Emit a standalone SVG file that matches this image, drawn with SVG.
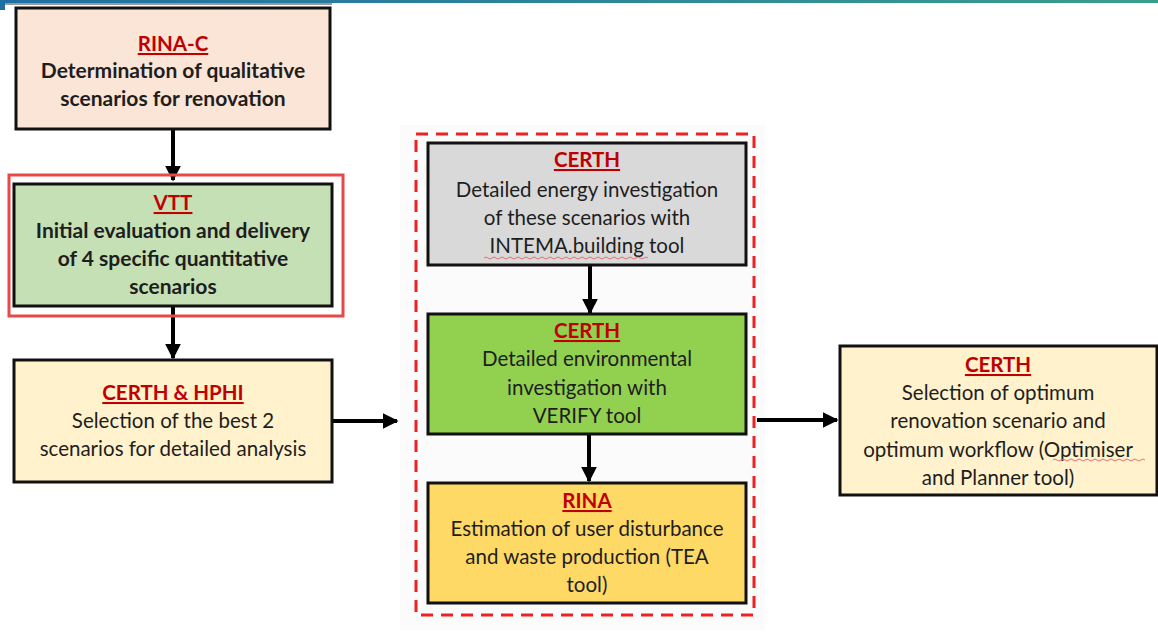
<svg xmlns="http://www.w3.org/2000/svg" width="1158" height="632" viewBox="0 0 1158 632">
<defs>
<linearGradient id="topbar" x1="0" y1="0" x2="1" y2="0">
<stop offset="0" stop-color="#1f6ea3"/>
<stop offset="1" stop-color="#3a9e8c"/>
</linearGradient>
<marker id="ah" markerWidth="4" markerHeight="4" refX="3.6" refY="2" orient="auto" markerUnits="strokeWidth">
<path d="M0,0 L4,2 L0,4 z" fill="#000"/>
</marker>
<style>
.box{stroke:#111;stroke-width:3}
.t{font-family:Lato,"Open Sans",sans-serif;font-size:20.5px;fill:#1e1e1e;text-anchor:middle}
.b{font-weight:bold;font-size:21px}
.h{font-family:Lato,"Open Sans",sans-serif;font-size:20.5px;font-weight:bold;fill:#c00000;text-anchor:middle;text-decoration:underline}
.c{stroke:#000;stroke-width:4;fill:none;marker-end:url(#ah)}
.sq{stroke:#e87070;stroke-width:1;fill:none}
</style>
</defs>
<rect x="0" y="0" width="1158" height="632" fill="#fff"/>
<rect x="400" y="125" width="365" height="505" fill="#fbfbfc"/>
<rect x="0" y="0" width="1158" height="3" fill="url(#topbar)"/>
<rect x="0" y="0" width="5" height="10" fill="#1f6ea3"/>
<rect x="5" y="3" width="327" height="2" fill="#9a9a9a"/>

<g id="connectors">
<line class="c" x1="173" y1="129" x2="173" y2="180"/>
<line class="c" x1="173" y1="307" x2="173" y2="358"/>
<line class="c" x1="333" y1="421" x2="397" y2="421"/>
<line class="c" x1="590" y1="265" x2="590" y2="313"/>
<line class="c" x1="589" y1="434" x2="589" y2="481"/>
<line class="c" x1="757" y1="420" x2="837" y2="420"/>
</g>

<g id="group-dashed">
<rect x="416" y="134" width="338" height="481" fill="none" stroke="#ee2222" stroke-width="3" stroke-dasharray="12 8"/>
</g>

<g id="node-rinac">
<rect class="box" x="16" y="8" width="314" height="121" fill="#fbe5d6"/>
<text class="h" x="173" y="51">RINA-C</text>
<text class="t b" x="173" y="78">Determination of qualitative</text>
<text class="t b" x="173" y="106">scenarios for renovation</text>
</g>

<g id="node-vtt">
<rect x="9" y="175" width="334" height="141" fill="none" stroke="#e84848" stroke-width="3"/>
<rect class="box" x="14" y="184" width="318" height="122" fill="#c5e0b4"/>
<text class="h" x="173" y="210">VTT</text>
<text class="t b" x="173" y="238">Initial evaluation and delivery</text>
<text class="t b" x="173" y="266">of 4 specific quantitative</text>
<text class="t b" x="173" y="294">scenarios</text>
</g>

<g id="node-certh-hphi">
<rect class="box" x="14" y="360" width="318" height="122" fill="#fff2cc"/>
<text class="h" x="173" y="400">CERTH &amp; HPHI</text>
<text class="t" x="173" y="428">Selection of the best 2</text>
<text class="t" x="173" y="456">scenarios for detailed analysis</text>
</g>

<g id="node-certh-energy">
<rect class="box" x="428" y="143" width="318" height="122" fill="#d9d9d9"/>
<text class="h" x="587" y="167">CERTH</text>
<text class="t" x="587" y="197">Detailed energy investigation</text>
<text class="t" x="587" y="225">of these scenarios with</text>
<text class="t" x="587" y="253">INTEMA.building tool</text>
<path class="sq" d="M484,258 q2,-2 4,0 t4,0 t4,0 t4,0 t4,0 t4,0 t4,0 t4,0 t4,0 t4,0 t4,0 t4,0 t4,0 t4,0 t4,0 t4,0 t4,0 t4,0 t4,0 t4,0 t4,0 t4,0 t4,0 t4,0 t4,0 t4,0 t4,0 t4,0 t4,0 t4,0 t4,0 t4,0 t4,0 t4,0 t4,0 t4,0 t4,0 t4,0 t4,0 t4,0 t4,0"/>
</g>

<g id="node-certh-env">
<rect class="box" x="428" y="314" width="318" height="120" fill="#92d050"/>
<text class="h" x="587" y="338">CERTH</text>
<text class="t" x="587" y="366">Detailed environmental</text>
<text class="t" x="587" y="395">investigation with</text>
<text class="t" x="587" y="423">VERIFY tool</text>
</g>

<g id="node-rina">
<rect class="box" x="428" y="483" width="318" height="120" fill="#ffd966"/>
<text class="h" x="587" y="508">RINA</text>
<text class="t" x="587" y="536">Estimation of user disturbance</text>
<text class="t" x="587" y="564">and waste production (TEA</text>
<text class="t" x="587" y="592">tool)</text>
</g>

<g id="node-certh-opt">
<rect class="box" x="840" y="346" width="317" height="149" fill="#fff2cc"/>
<text class="h" x="998" y="372">CERTH</text>
<text class="t" x="998" y="400">Selection of optimum</text>
<text class="t" x="998" y="428">renovation scenario and</text>
<text class="t" x="998" y="457">optimum workflow (Optimiser</text>
<text class="t" x="998" y="485">and Planner tool)</text>
<path class="sq" d="M1053,460 q2,-2 4,0 t4,0 t4,0 t4,0 t4,0 t4,0 t4,0 t4,0 t4,0 t4,0 t4,0 t4,0 t4,0 t4,0 t4,0 t4,0 t4,0 t4,0 t4,0 t4,0 t4,0 t4,0 t4,0"/>
</g>
</svg>
